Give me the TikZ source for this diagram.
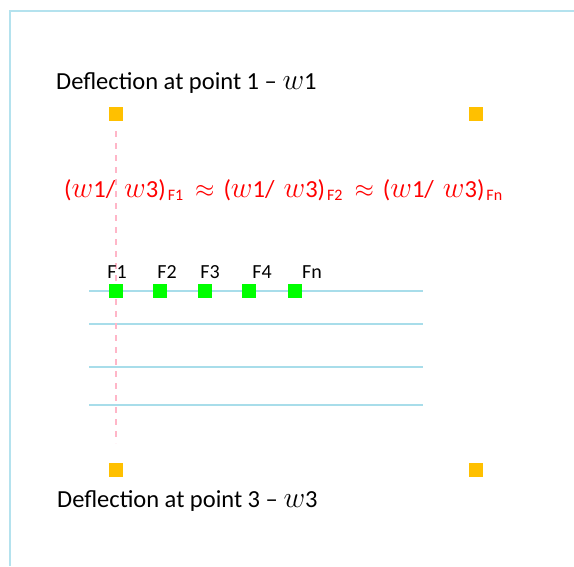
\documentclass[tikz,border=0pt]{standalone}
\usepackage{fontspec}
\usepackage{graphicx}
\setmainfont{Carlito}
\definecolor{frameblue}{HTML}{B4E2EE}
\definecolor{lineblue}{HTML}{A8DDEA}
\definecolor{sqorange}{HTML}{FFC000}
\definecolor{sqgreen}{HTML}{00FF00}
\definecolor{dashpink}{HTML}{FFB6C8}
\newcommand{\sbs}[1]{\hspace{2pt}\raisebox{-0.3ex}{\fontsize{16}{16}\selectfont #1}}
\newcommand{\ww}{\scalebox{1.2}{$w$}}
\newcommand{\grp}[1]{(\ww1/\hspace{9pt}\ww3)\sbs{#1}}
\newcommand{\apx}{\hspace{12pt}$\approx$\hspace{9pt}}
\tikzset{
  orsq/.style={fill=sqorange, draw=none, minimum size=14pt, inner sep=0pt},
  grsq/.style={fill=sqgreen, draw=none, minimum size=14pt, inner sep=0pt},
  flabel/.style={font=\fontsize{20}{24}\selectfont, anchor=base, inner sep=0pt},
  deftext/.style={font=\fontsize{24.5}{29}\selectfont, anchor=base west, inner sep=0pt},
  bline/.style={draw=lineblue, line width=1.2pt},
}
\begin{document}
\begin{tikzpicture}[x=1pt,y=-1pt]
\useasboundingbox (0,0) rectangle (574,566);
% frame
\coordinate (fa) at (10,566);
\coordinate (fb) at (10,11);
\coordinate (fc) at (574,11);
\draw[frameblue, line width=1.5pt] (fa) -- (fb) -- (fc);
% horizontal lines
\foreach \y [count=\i] in {291,324,367,405}{
  \coordinate (l\i a) at (89,\y);
  \coordinate (l\i b) at (423,\y);
  \draw[bline] (l\i a) -- (l\i b);
}
% pink dashed line
\coordinate (pa) at (116,131);
\coordinate (pb) at (116,443);
\draw[dashpink, line width=1.2pt, dash pattern=on 6pt off 6pt] (pa) -- (pb);
% orange squares
\node[orsq] (o1) at (116,114) {};
\node[orsq] (o2) at (476,114) {};
\node[orsq] (o3) at (116,470) {};
\node[orsq] (o4) at (476,470) {};
% green squares
\node[grsq] (g1) at (116,291) {};
\node[grsq] (g2) at (160,291) {};
\node[grsq] (g3) at (205,291) {};
\node[grsq] (g4) at (249,291) {};
\node[grsq] (g5) at (295,291) {};
% labels
\node[flabel] (t1) at (117,278) {F1};
\node[flabel] (t2) at (167,278) {F2};
\node[flabel] (t3) at (210,278) {F3};
\node[flabel] (t4) at (262,278) {F4};
\node[flabel] (t5) at (312,278) {Fn};
% texts
\node[deftext] (d1) at (56,89) {Deflection at point 1 – \ww1};
\node[deftext] (d3) at (57,507) {Deflection at point 3 – \ww3};
\node[deftext, text=red] (eq) at (64,197) {\grp{F1}\apx\grp{F2}\apx\grp{Fn}};
\end{tikzpicture}
\end{document}
